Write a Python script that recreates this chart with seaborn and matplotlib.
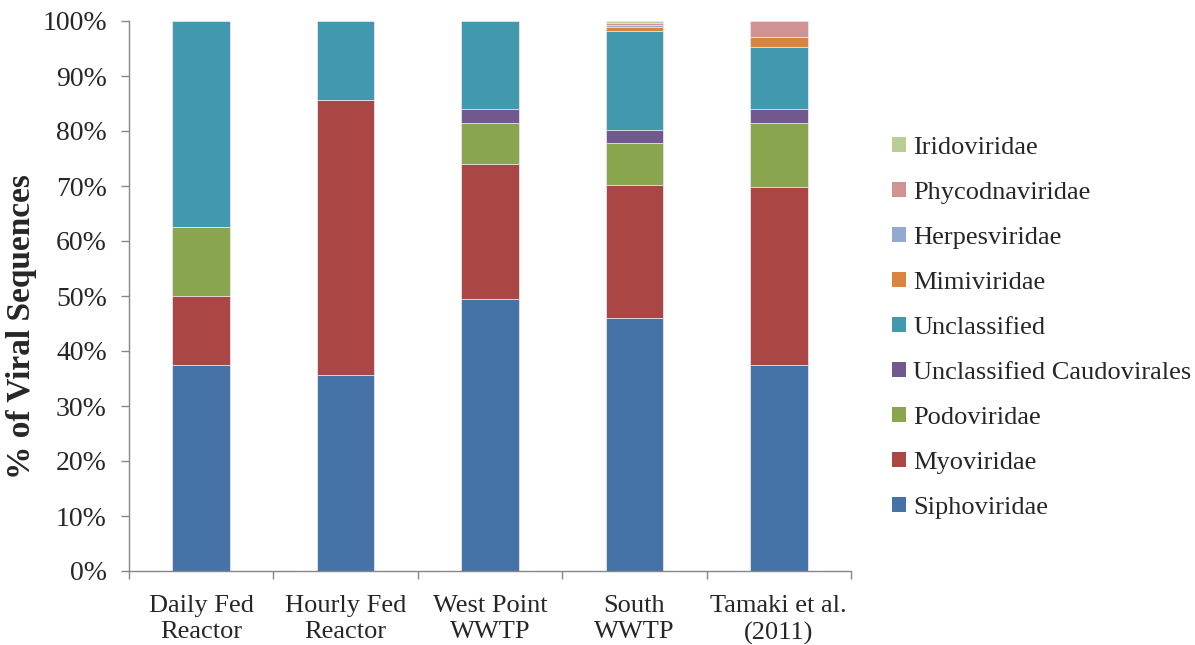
import numpy as np
import pandas as pd
import matplotlib
matplotlib.use("Agg")
import matplotlib.pyplot as plt
import seaborn as sns
from matplotlib.patches import Patch
from matplotlib.ticker import FixedLocator, PercentFormatter

categories = ["Daily Fed\nReactor", "Hourly Fed\nReactor", "West Point\nWWTP", "South\nWWTP", "Tamaki et al.\n(2011)"]
series_names = ["Siphoviridae", "Myoviridae", "Podoviridae", "Unclassified Caudovirales",
                "Unclassified", "Mimiviridae", "Herpesviridae", "Phycodnaviridae", "Iridoviridae"]
siphoviridae = [37.5, 35.7, 49.4, 46.0, 37.5]
myoviridae = [12.5, 50.0, 24.6, 24.2, 32.4]
podoviridae = [12.5, 0.0, 7.4, 7.6, 11.5]
uncl_caudovirales = [0.0, 0.0, 2.6, 2.3, 2.65]
unclassified = [37.5, 14.3, 16.0, 18.0, 11.25]
mimiviridae = [0.0, 0.0, 0.0, 0.75, 1.85]
herpesviridae = [0.0, 0.0, 0.0, 0.4, 0.0]
phycodnaviridae = [0.0, 0.0, 0.0, 0.4, 2.85]
iridoviridae = [0.0, 0.0, 0.0, 0.35, 0.0]
colors = ["#4572A7", "#AA4643", "#89A54E", "#71588F", "#4198AF",
          "#DB843D", "#93A9CF", "#D19392", "#B9CD96"]

values = [siphoviridae, myoviridae, podoviridae, uncl_caudovirales, unclassified,
          mimiviridae, herpesviridae, phycodnaviridae, iridoviridae]
cum = np.cumsum(np.array(values), axis=0)

sns.set_theme(style="white")
plt.rcParams["font.family"] = ["Liberation Serif", "DejaVu Serif"]

fig = plt.figure(figsize=(11.95, 6.45), dpi=100)
ax = fig.add_axes([129/1195, 1 - 571/645, (851-129)/1195, (571-21)/645])

for i in range(len(series_names) - 1, -1, -1):
    df = pd.DataFrame({"cat": categories, "val": cum[i]})
    sns.barplot(data=df, x="cat", y="val", order=categories, color=colors[i],
                saturation=1, width=0.4, ax=ax, edgecolor="#e8e8ee", linewidth=0.6)

ax.set_ylim(0, 100)
ax.set_xlim(-0.5, 4.5)
ax.yaxis.set_major_locator(FixedLocator(np.arange(0, 101, 10)))
ax.yaxis.set_major_formatter(PercentFormatter(decimals=0))
ax.set_xticks(np.arange(-0.5, 4.6, 1.0))
ax.set_xticklabels([])
ax.set_xticks(np.arange(5), minor=True)
ax.set_xticklabels(categories, minor=True, fontsize=19, linespacing=1.28)
ax.tick_params(axis="x", which="minor", length=0, pad=17)
ax.tick_params(axis="x", which="major", direction="out", length=6, width=1, color="#868686", bottom=True)
ax.tick_params(axis="y", direction="out", length=6, width=1, color="#868686", left=True, labelsize=20, pad=10)
for s in ["top", "right"]:
    ax.spines[s].set_visible(False)
for s in ["left", "bottom"]:
    ax.spines[s].set_color("#868686")
    ax.spines[s].set_linewidth(1)
ax.set_xlabel("")
ax.set_ylabel("% of Viral Sequences", fontsize=24, fontweight="bold", va="center")
ax.yaxis.set_label_coords((22 - 129) / 722, (571 - 327) / 550)
ax.grid(False)

handles = [Patch(facecolor=colors[i], edgecolor="none", label=series_names[i])
           for i in range(len(series_names) - 1, -1, -1)]
fig.legend(handles=handles, loc="center left", bbox_to_anchor=(892/1195, 1 - 328/645),
           frameon=False, fontsize=19, handlelength=0.52, handleheight=0.52,
           handletextpad=0.28, labelspacing=0.87, borderaxespad=0, borderpad=0)

fig.savefig("out.png", dpi=100)
